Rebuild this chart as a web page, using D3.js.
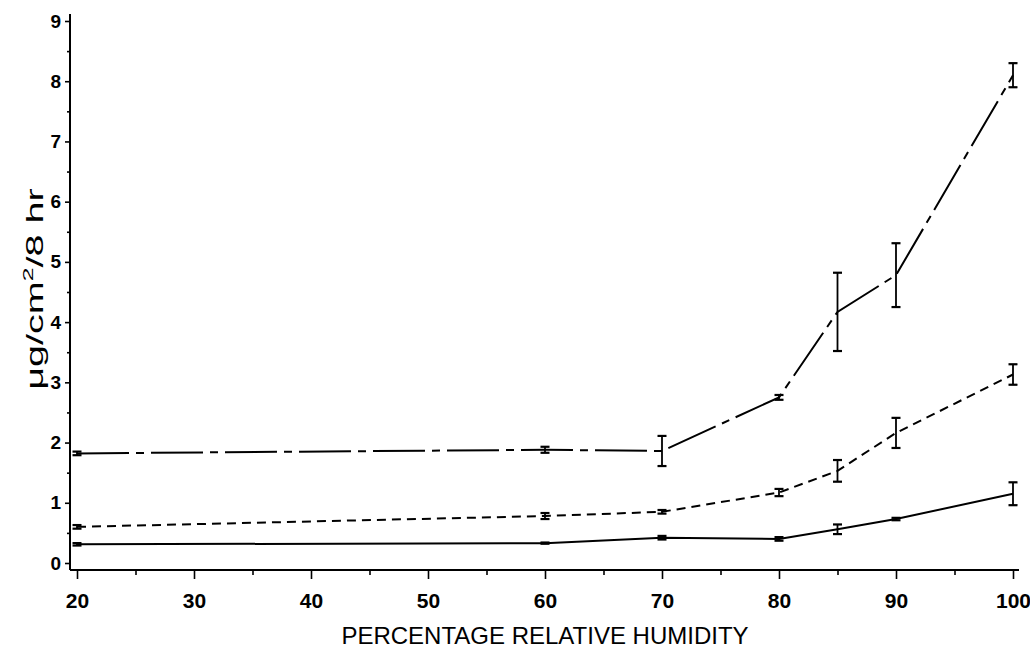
<!DOCTYPE html>
<html>
<head>
<meta charset="utf-8">
<script src="https://cdn.jsdelivr.net/npm/d3@7"></script>
<style>
  body { margin: 0; background: #fff; }
  .tick text { font-family: "Liberation Sans", Arial, sans-serif; font-weight: bold; fill: #000; }
  .x-ticks .tick text { font-size: 21px; }
  .y-ticks .tick text { font-size: 19px; }
  .title { font-family: "Liberation Sans", Arial, sans-serif; font-size: 24px; fill: #000; }
</style>
</head>
<body>
<div id="chart"></div>
<script>
// relative humidity (%)
var humidity = [20, 60, 70, 80, 85, 90, 100];

// three series, ug/cm2/8 hr, with +/- error
var dashDot = [1.82, 1.88, 1.86, 2.75, 4.17, 4.78, 8.1];
var dashDotErr = [0.03, 0.05, 0.25, 0.04, 0.65, 0.53, 0.2];
var dashed = [0.6, 0.78, 0.85, 1.17, 1.53, 2.16, 3.13];
var dashedErr = [0.03, 0.05, 0.03, 0.06, 0.18, 0.25, 0.17];
var solid = [0.31, 0.33, 0.42, 0.4, 0.56, 0.73, 1.15];
var solidErr = [0.02, 0.01, 0.03, 0.03, 0.08, 0.02, 0.19];

var xMajor = [20, 30, 40, 50, 60, 70, 80, 90, 100];
var xMinor = [25, 35, 45, 55, 65, 75, 85, 95];
var yMajor = [0, 1, 2, 3, 4, 5, 6, 7, 8, 9];
var yMinor = [0.5, 1.5, 2.5, 3.5, 4.5, 5.5, 6.5, 7.5, 8.5];

var width = 1030;
var height = 652;
var axisX = 70;   // y axis position
var axisY = 570;  // x axis position

var svg = d3.select("#chart")
    .append("svg")
    .attr("width", width)
    .attr("height", height);

var x = d3.scaleLinear().domain([20, 100]).range([77, 1013]);
var y = d3.scaleLinear().domain([0, 9]).range([563, 21]);

// axis lines
svg.append("line")
    .attr("x1", axisX).attr("x2", 1019)
    .attr("y1", axisY).attr("y2", axisY)
    .attr("stroke", "#000").attr("stroke-width", 2);
svg.append("line")
    .attr("x1", axisX).attr("x2", axisX)
    .attr("y1", 14).attr("y2", axisY)
    .attr("stroke", "#000").attr("stroke-width", 2);

// x ticks
svg.append("g")
    .attr("class", "x-ticks")
    .attr("transform", `translate(0, ${axisY})`)
    .call(d3.axisBottom(x).tickValues(xMajor).tickSize(9).tickPadding(14));
svg.append("g")
    .attr("transform", `translate(0, ${axisY})`)
    .call(d3.axisBottom(x).tickValues(xMinor).tickSize(5).tickFormat(""));

// y ticks
svg.append("g")
    .attr("class", "y-ticks")
    .attr("transform", `translate(${axisX}, 0)`)
    .call(d3.axisLeft(y).tickValues(yMajor).tickSize(5).tickPadding(4));
svg.append("g")
    .attr("transform", `translate(${axisX}, 0)`)
    .call(d3.axisLeft(y).tickValues(yMinor).tickSize(3).tickFormat(""));

svg.selectAll(".domain").remove();
svg.selectAll(".tick line").attr("stroke", "#000").attr("stroke-width", 1.6);

// titles
svg.append("text")
    .attr("class", "title")
    .attr("x", 545)
    .attr("y", 644)
    .attr("text-anchor", "middle")
    .text("PERCENTAGE RELATIVE HUMIDITY");

var yTitle = svg.append("text")
    .attr("class", "title")
    .attr("transform", "translate(43, 289) rotate(-90) scale(1.65, 1)")
    .attr("text-anchor", "middle");
yTitle.append("tspan").text("μg/cm");
yTitle.append("tspan").attr("dy", -10).attr("font-size", "15px").text("2");
yTitle.append("tspan").attr("dy", 10).text("/8 hr");

// series
var series = [
  { values: dashDot, err: dashDotErr, dash: "52,7,8,7" },
  { values: dashed, err: dashedErr, dash: "9,6" },
  { values: solid, err: solidErr, dash: null }
];

var line = d3.line()
    .x(function(d) { return x(d.h); })
    .y(function(d) { return y(d.v); });

series.forEach(function(s) {
  var pts = humidity.map(function(h, i) {
    return { h: h, v: s.values[i], e: s.err[i] };
  });

  svg.append("path")
      .datum(pts)
      .attr("d", line)
      .attr("fill", "none")
      .attr("stroke", "#000")
      .attr("stroke-width", 2)
      .attr("stroke-dasharray", s.dash);

  var bars = svg.append("g").selectAll("g")
      .data(pts)
      .enter().append("g");

  bars.append("line")
      .attr("x1", function(d) { return x(d.h); })
      .attr("x2", function(d) { return x(d.h); })
      .attr("y1", function(d) { return y(d.v + d.e); })
      .attr("y2", function(d) { return y(d.v - d.e); })
      .attr("stroke", "#000")
      .attr("stroke-width", 1.8);

  [1, -1].forEach(function(sign) {
    bars.append("line")
        .attr("x1", function(d) { return x(d.h) - 4.5; })
        .attr("x2", function(d) { return x(d.h) + 4.5; })
        .attr("y1", function(d) { return y(d.v + sign * d.e); })
        .attr("y2", function(d) { return y(d.v + sign * d.e); })
        .attr("stroke", "#000")
        .attr("stroke-width", 2.2);
  });
});
</script>
</body>
</html>
